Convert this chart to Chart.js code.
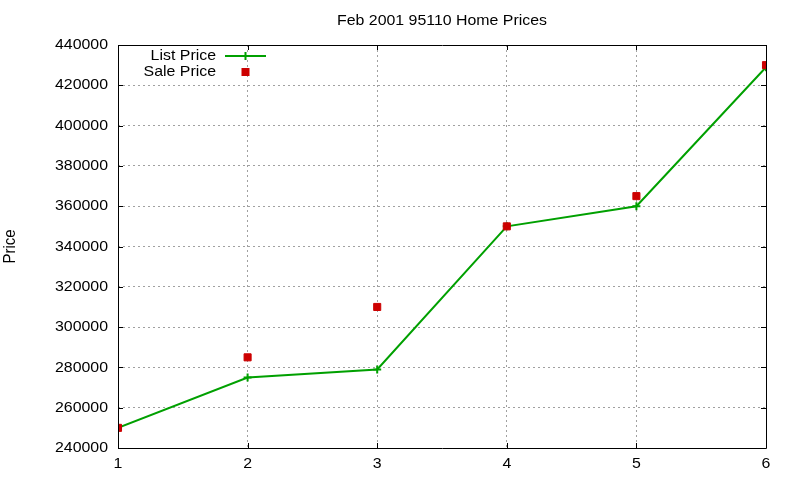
<!DOCTYPE html>
<html>
<head>
<meta charset="utf-8">
<script src="https://cdn.jsdelivr.net/npm/chart.js@4/dist/chart.umd.min.js"></script>
<style>
html,body{margin:0;padding:0;background:#fff;}
#wrap{width:800px;height:480px;}
</style>
</head>
<body>
<div id="wrap"><canvas id="c" width="800" height="480"></canvas></div>
<script>
const chartTitle = "Feb 2001 95110 Home Prices";
const yAxisTitle = "Price";
const categories = [1, 2, 3, 4, 5, 6];
const listPrice = [250000, 275000, 279000, 350000, 360000, 429000];
const salePrice = [250000, 285000, 310000, 350000, 365000, 430000];
const seriesNames = ["List Price", "Sale Price"];
const yMin = 240000, yMax = 440000, yStep = 20000;

const FONT = "'Liberation Sans', Arial, sans-serif";
const GREEN = "#00a000";
const RED = "#cc0000";
const TEXT_STRETCH = 1.06; // reference text is slightly wide

// draw all text slightly stretched horizontally (screen space) to match the reference glyphs
(function () {
  const orig = CanvasRenderingContext2D.prototype.fillText;
  CanvasRenderingContext2D.prototype.fillText = function (t, x, y, mw) {
    const m = this.getTransform();
    const p = m.transformPoint(new DOMPoint(x, y));
    const s = new DOMMatrix().translate(p.x, p.y).scale(TEXT_STRETCH, 1).translate(-p.x, -p.y).multiply(m);
    this.save();
    this.setTransform(s);
    if (mw === undefined) orig.call(this, t, x, y); else orig.call(this, t, x, y, mw);
    this.restore();
  };
})();

const framePlugin = {
  id: 'frame',
  afterDatasetsDraw(chart) {
    const {ctx, chartArea: a, scales} = chart;
    ctx.save();
    ctx.strokeStyle = '#000';
    ctx.lineWidth = 1;
    ctx.beginPath();
    ctx.rect(Math.round(a.left) + 0.5, Math.round(a.top) + 0.5, Math.round(a.right - a.left), Math.round(a.bottom - a.top));
    ctx.stroke();
    // inward tick marks
    const L = 5;
    ctx.beginPath();
    scales.y.ticks.forEach(t => {
      const y = Math.round(scales.y.getPixelForValue(t.value)) + 0.5;
      ctx.moveTo(a.left, y); ctx.lineTo(a.left + L, y);
      ctx.moveTo(a.right, y); ctx.lineTo(a.right - L, y);
    });
    scales.x.ticks.forEach(t => {
      const x = Math.round(scales.x.getPixelForValue(t.value)) + 0.5;
      ctx.moveTo(x, a.bottom); ctx.lineTo(x, a.bottom - L);
      ctx.moveTo(x, a.top); ctx.lineTo(x, a.top + L);
    });
    ctx.stroke();
    // title
    ctx.fillStyle = '#000';
    ctx.font = '15px ' + FONT;
    ctx.textAlign = 'center';
    ctx.textBaseline = 'middle';
    ctx.fillText(chartTitle, (a.left + a.right) / 2, 21);
    // legend
    ctx.textAlign = 'right';
    const lx = a.left + 98;
    const sx1 = a.left + 107, sx2 = a.left + 148, sxm = (sx1 + sx2) / 2;
    const y1 = a.top + 11, y2 = a.top + 27;
    ctx.fillText(seriesNames[0], lx, y1);
    ctx.fillText(seriesNames[1], lx, y2);
    ctx.strokeStyle = GREEN;
    ctx.lineWidth = 2;
    ctx.beginPath();
    ctx.moveTo(sx1, y1); ctx.lineTo(sx2, y1);
    ctx.moveTo(sxm, y1 - 4); ctx.lineTo(sxm, y1 + 4);
    ctx.stroke();
    ctx.fillStyle = RED;
    ctx.fillRect(sxm - 4, y2 - 4, 8, 8);
    ctx.restore();
  }
};

new Chart(document.getElementById('c'), {
  type: 'line',
  data: {
    datasets: [
      {
        label: seriesNames[0],
        data: categories.map((c, i) => ({x: c, y: listPrice[i]})),
        borderColor: GREEN,
        backgroundColor: GREEN,
        borderWidth: 2,
        pointStyle: 'cross',
        pointRadius: 4,
        pointBorderWidth: 2,
        pointHoverRadius: 4,
        tension: 0,
        fill: false,
        order: 2
      },
      {
        label: seriesNames[1],
        data: categories.map((c, i) => ({x: c, y: salePrice[i]})),
        showLine: false,
        borderColor: RED,
        backgroundColor: RED,
        pointStyle: 'rect',
        pointRadius: 5,
        pointBorderWidth: 1,
        pointHoverRadius: 5,
        order: 1
      }
    ]
  },
  options: {
    responsive: false,
    animation: false,
    devicePixelRatio: 1,
    layout: {padding: {left: 0, top: 45, right: 34, bottom: 0}},
    plugins: {
      legend: {display: false},
      title: {display: false},
      tooltip: {enabled: false}
    },
    scales: {
      x: {
        type: 'linear',
        min: 1, max: 6,
        afterFit: s => { s.height = 32; },
        grid: {color: '#a0a0a0', drawTicks: false, lineWidth: 1},
        border: {display: false, dash: [2, 3]},
        ticks: {stepSize: 1, padding: 7, color: '#000', font: {family: FONT, size: 15}}
      },
      y: {
        min: yMin, max: yMax,
        afterFit: s => { s.width = 118; },
        grid: {color: '#a0a0a0', drawTicks: false, lineWidth: 1},
        border: {display: false, dash: [2, 3]},
        ticks: {stepSize: yStep, padding: 10, color: '#000', font: {family: FONT, size: 15},
                callback: v => String(v)},
        title: {display: true, text: yAxisTitle, color: '#000', font: {family: FONT, size: 15}, padding: {top: 2, bottom: 0}}
      }
    }
  },
  plugins: [framePlugin]
});
</script>
</body>
</html>
